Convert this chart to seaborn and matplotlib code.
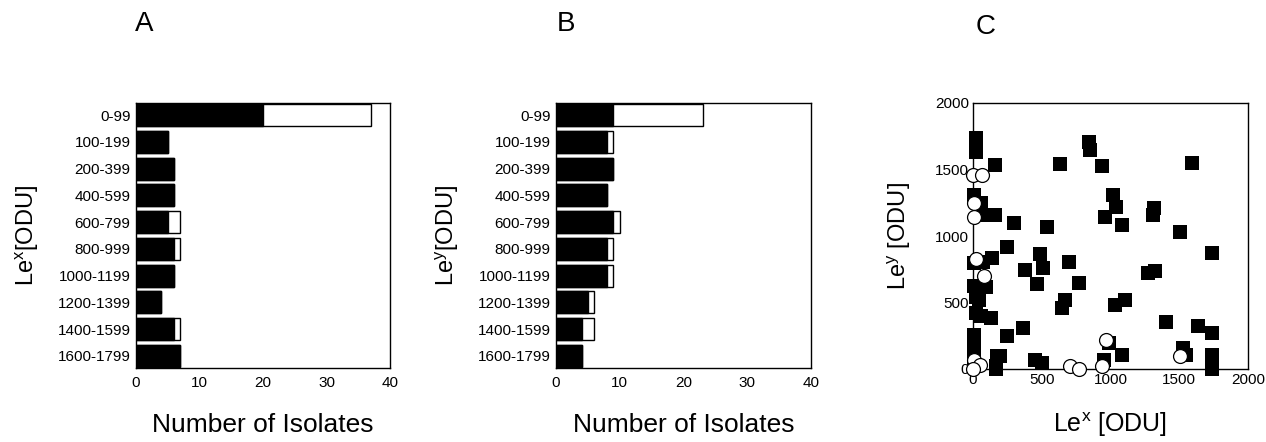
import matplotlib
matplotlib.use("Agg")
import matplotlib.pyplot as plt
import pandas as pd
import seaborn as sns

# histogram bins (ODU ranges)
bins = ["0-99", "100-199", "200-399", "400-599", "600-799", "800-999",
        "1000-1199", "1200-1399", "1400-1599", "1600-1799"]

# panel A: Le^x, black part and total bar length
lex_black = [20, 5, 6, 6, 5, 6, 6, 4, 6, 7]
lex_total = [37, 5, 6, 6, 7, 7, 6, 4, 7, 7]

# panel B: Le^y
ley_black = [9, 8, 9, 8, 9, 8, 8, 5, 4, 4]
ley_total = [23, 9, 9, 8, 10, 9, 9, 6, 6, 4]

# panel C: filled squares
sq_x = [19, 19, 158, 630, 841, 848, 940, 1593, 5, 60, 68, 158, 296, 541, 962,
        1018, 1042, 1086, 1316, 1309, 1503, 1740, 250, 490, 509, 381, 465, 698,
        768, 671, 650, 1030, 1108, 1273, 1321, 5, 73, 140, 5, 61, 92, 24, 44,
        24, 61, 133, 5, 5, 5, 5, 247, 364, 175, 194, 170, 168, 448, 504, 950,
        989, 1086, 1406, 1636, 1740, 1527, 1552, 1740, 1740, 1740, 1740]
sq_y = [1740, 1632, 1532, 1545, 1707, 1650, 1525, 1550, 1307, 1250, 1157, 1157,
        1100, 1070, 1145, 1307, 1215, 1082, 1212, 1157, 1032, 875, 920, 865,
        757, 745, 640, 807, 645, 520, 457, 482, 520, 720, 740, 800, 807, 832,
        625, 625, 620, 545, 520, 420, 402, 382, 257, 195, 132, 70, 245, 307,
        95, 95, 20, 0, 70, 45, 70, 195, 107, 357, 320, 270, 157, 107, 107, 45,
        0, 75]

# panel C: open circles
ci_x = [0, 68, 10, 10, 19, 80, 970, 1503, 5, 48, 0, 703, 771, 940]
ci_y = [1457, 1457, 1245, 1145, 827, 700, 220, 100, 70, 32, 0, 25, 0, 25]

sns.set_theme(style="white")
plt.rcParams["font.family"] = ["Liberation Sans", "DejaVu Sans"]
plt.rcParams["mathtext.default"] = "regular"
plt.rcParams["text.color"] = "black"
plt.rcParams["axes.labelcolor"] = "black"
plt.rcParams["xtick.color"] = "black"
plt.rcParams["ytick.color"] = "black"

W, H = 1266, 442
fig = plt.figure(figsize=(W / 100, H / 100), dpi=100)


def px_axes(left, top, right, bottom):
    return fig.add_axes([left / W, 1 - bottom / H, (right - left) / W, (bottom - top) / H])


def bar_panel(ax, black, total, ylabel):
    df = pd.DataFrame({"bin": bins, "black": black, "total": total})
    sns.barplot(data=df, x="total", y="bin", order=bins, orient="h", color="white",
                edgecolor="black", linewidth=1.0, width=0.82, ax=ax)
    sns.barplot(data=df, x="black", y="bin", order=bins, orient="h", color="black",
                edgecolor="black", linewidth=1.0, width=0.82, ax=ax)
    ax.set_xlim(0, 40)
    ax.set_ylim(9.45, -0.45)
    ax.set_xticks([0, 10, 20, 30, 40])
    ax.tick_params(axis="x", direction="in", length=3, width=0.8, labelsize=11, pad=6)
    ax.tick_params(axis="y", length=0, labelsize=11, pad=4)
    ax.set_xlabel("Number of Isolates", fontsize=19, labelpad=16)
    ax.set_ylabel(ylabel, fontsize=17, labelpad=12)
    for s in ax.spines.values():
        s.set_visible(True)
        s.set_color("black")
        s.set_linewidth(1.0)


axA = px_axes(136, 103, 390, 368)
bar_panel(axA, lex_black, lex_total, "Le$^{x}$[ODU]")

axB = px_axes(556, 103, 811, 368)
bar_panel(axB, ley_black, ley_total, "Le$^{y}$[ODU]")

axC = px_axes(973, 103, 1248, 369)
sns.scatterplot(x=sq_x, y=sq_y, marker="s", color="black", s=90, linewidth=0,
                clip_on=False, ax=axC)
sns.scatterplot(x=ci_x, y=ci_y, marker="o", color="white", edgecolor="black", s=100,
                linewidth=0.9, clip_on=False, zorder=4, ax=axC)
axC.set_xlim(0, 2000)
axC.set_ylim(0, 2000)
axC.set_xticks([0, 500, 1000, 1500, 2000])
axC.set_yticks([0, 500, 1000, 1500, 2000])
axC.tick_params(direction="in", length=3, width=0.8, labelsize=11, pad=3)
axC.set_xlabel("Le$^{x}$ [ODU]", fontsize=18, labelpad=17)
axC.set_ylabel("Le$^{y}$ [ODU]", fontsize=17, labelpad=16)
for s in axC.spines.values():
    s.set_visible(True)
    s.set_color("black")
    s.set_linewidth(1.0)

fig.text(144 / W, 1 - 24 / H, "A", fontsize=20, ha="center", va="center")
fig.text(566 / W, 1 - 24 / H, "B", fontsize=20, ha="center", va="center")
fig.text(986 / W, 1 - 27 / H, "C", fontsize=20, ha="center", va="center")

fig.savefig("out.png", dpi=100)
